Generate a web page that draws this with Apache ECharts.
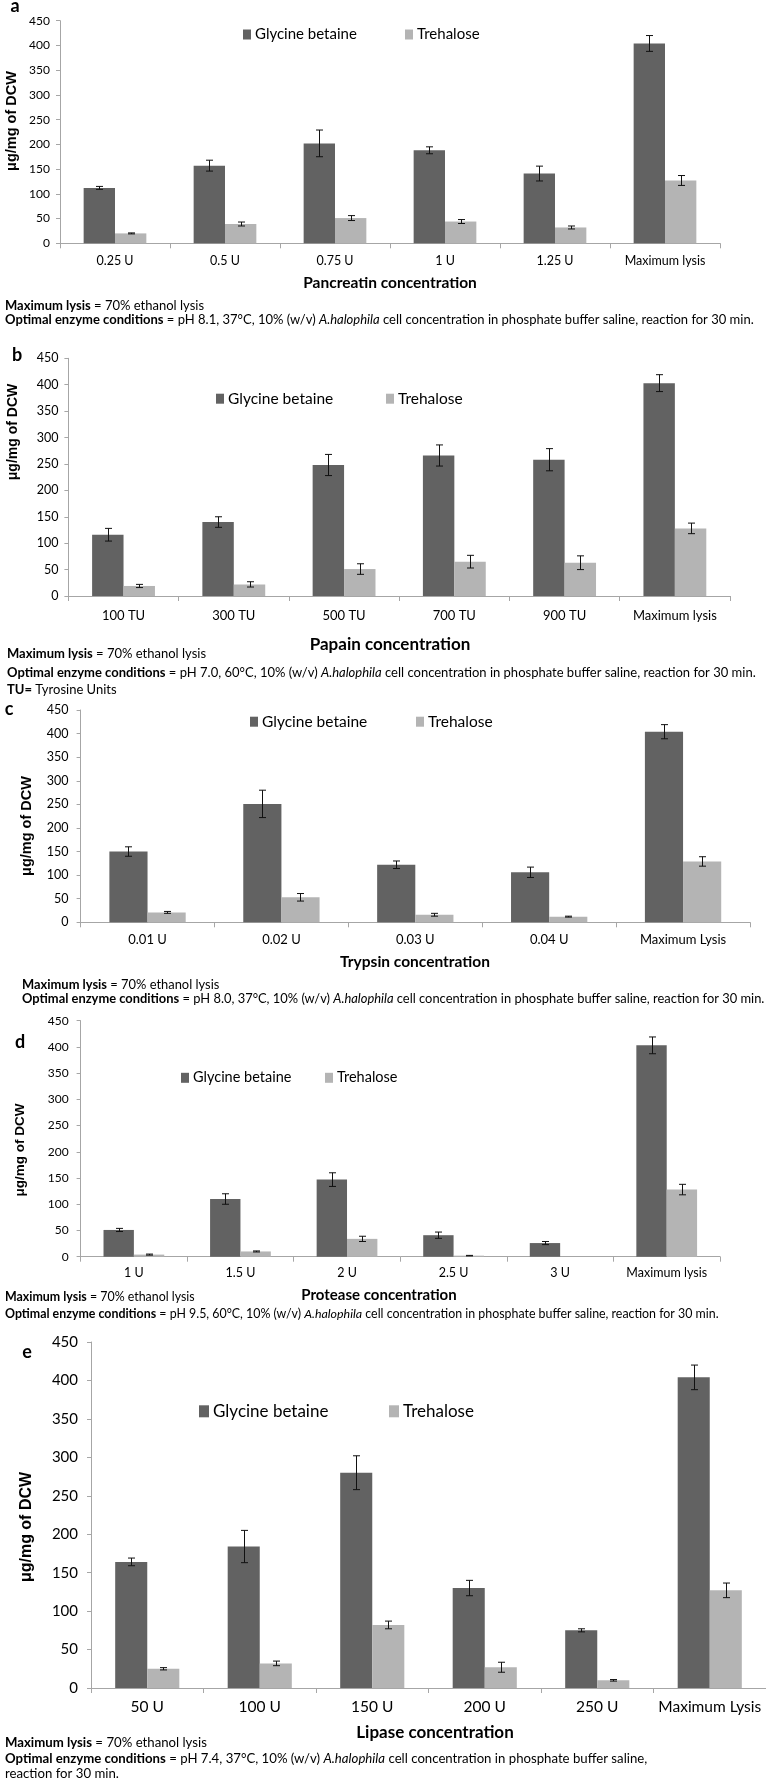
<!DOCTYPE html>
<html>
<head>
<meta charset="utf-8">
<script src="https://cdn.jsdelivr.net/npm/echarts@6/dist/echarts.min.js"></script>
<style>
html,body{margin:0;padding:0;background:#fff;}
#c{width:766px;height:1783px;}
</style>
</head>
<body>
<div id="c"></div>
<script>
// ---------- DATA ----------
var yTicks = [0, 50, 100, 150, 200, 250, 300, 350, 400, 450];
var seriesNames = ['Glycine betaine', 'Trehalose'];

var catsA = ['0.25 U', '0.5 U', '0.75 U', '1 U', '1.25 U', 'Maximum lysis'];
var gbA = [112, 157, 202, 188, 141, 404];
var gbAErr = [3, 11, 27, 7, 15, 16];
var trA = [20, 39, 51, 44, 32, 127];
var trAErr = [1, 4, 5, 4, 3, 10];

var catsB = ['100 TU', '300 TU', '500 TU', '700 TU', '900 TU', 'Maximum lysis'];
var gbB = [116, 140, 248, 266, 258, 403];
var gbBErr = [12, 10, 20, 20, 21, 16];
var trB = [19, 22, 51, 65, 63, 128];
var trBErr = [3, 5, 10, 12, 13, 10];

var catsC = ['0.01 U', '0.02 U', '0.03 U', '0.04 U', 'Maximum Lysis'];
var gbC = [150, 251, 122, 106, 404];
var gbCErr = [10, 29, 8, 11, 15];
var trC = [21, 53, 16, 12, 129];
var trCErr = [2, 8, 3, 1, 10];

var catsD = ['1 U', '1.5 U', '2 U', '2.5 U', '3 U', 'Maximum lysis'];
var gbD = [51, 110, 147, 41, 26, 403];
var gbDErr = [3, 10, 13, 6, 3, 16];
var trD = [4, 10, 34, 2, 0, 128];
var trDErr = [1, 1, 5, 0.5, 0, 10];

var catsE = ['50 U', '100 U', '150 U', '200 U', '250 U', 'Maximum Lysis'];
var gbE = [164, 184, 280, 130, 75, 404];
var gbEErr = [5, 21, 22, 10, 2, 16];
var trE = [25, 32, 82, 27, 10, 127];
var trEErr = [1.5, 3, 5, 6.5, 1, 9.5];

var panelLetters = ['a', 'b', 'c', 'd', 'e'];
var xTitles = ['Pancreatin concentration', 'Papain concentration', 'Trypsin concentration', 'Protease concentration', 'Lipase concentration'];
var yTitle = 'μg/mg of DCW';
var notesA = ['{b|Maximum lysis} = 70% ethanol lysis',
  '{b|Optimal enzyme conditions} = pH 8.1, 37°C, 10% (w/v) {i|A.halophila} cell concentration in phosphate buffer saline, reaction for 30 min.'];
var notesB = ['{b|Maximum lysis} = 70% ethanol lysis',
  '{b|Optimal enzyme conditions} = pH 7.0, 60°C, 10% (w/v) {i|A.halophila} cell concentration in phosphate buffer saline, reaction for 30 min.',
  '{b|TU=} Tyrosine Units'];
var notesC = ['{b|Maximum lysis} = 70% ethanol lysis',
  '{b|Optimal enzyme conditions} = pH 8.0, 37°C, 10% (w/v) {i|A.halophila} cell concentration in phosphate buffer saline, reaction for 30 min.'];
var notesD = ['{b|Maximum lysis} = 70% ethanol lysis',
  '{b|Optimal enzyme conditions} = pH 9.5, 60°C, 10% (w/v) {i|A.halophila} cell concentration in phosphate buffer saline, reaction for 30 min.'];
var notesE = ['{b|Maximum lysis} = 70% ethanol lysis',
  '{b|Optimal enzyme conditions} = pH 7.4, 37°C, 10% (w/v) {i|A.halophila} cell concentration in phosphate buffer saline,',
  'reaction for 30 min.'];

// ---------- LAYOUT / STYLE ----------
var FONT = 'Lato, "Open Sans", sans-serif';
var GB_COLOR = '#626262';
var TR_COLOR = '#b4b4b4';
var AXIS_COLOR = '#a6a6a6';
var BAR_PCT = 0.285;

var panels = [
  {cats: catsA, gb: gbA, gbErr: gbAErr, tr: trA, trErr: trAErr, notes: notesA,
   grid: {left: 60, top: 20.7, width: 660, height: 222.6},
   tick: 12, xl: 12.5, xlMargin: 11, ylMargin: 10,
   leg: {gb: 243, tr: 405, cy: 36, fs: 15, w: 8, h: 10},
   letter: [15, 6], ytitle: [12, 121, 14.5], xtitle: [390, 283, 15.5],
   notesPos: [5, [306, 320]], noteFs: 13},
  {cats: catsB, gb: gbB, gbErr: gbBErr, tr: trB, trErr: trBErr, notes: notesB,
   grid: {left: 68.4, top: 358.3, width: 661.6, height: 237.7},
   tick: 12.5, xl: 13, xlMargin: 13.5, ylMargin: 10,
   leg: {gb: 216, tr: 386, cy: 400, fs: 15.5, w: 8, h: 10},
   letter: [17, 355], ytitle: [13, 432, 14], xtitle: [390, 645, 17],
   notesPos: [7, [654, 673, 690]], noteFs: 13},
  {cats: catsC, gb: gbC, gbErr: gbCErr, tr: trC, trErr: trCErr, notes: notesC,
   grid: {left: 80.6, top: 710, width: 669.4, height: 212.3},
   tick: 12.5, xl: 13, xlMargin: 11, ylMargin: 12,
   leg: {gb: 250, tr: 416, cy: 723, fs: 15.5, w: 8, h: 10},
   letter: [9, 709], ytitle: [27, 826, 14.5], xtitle: [415, 962, 15.5],
   notesPos: [22, [985, 999]], noteFs: 12.9},
  {cats: catsD, gb: gbD, gbErr: gbDErr, tr: trD, trErr: trDErr, notes: notesD,
   grid: {left: 80.6, top: 1020.7, width: 639.4, height: 236},
   tick: 12, xl: 12.5, xlMargin: 10, ylMargin: 12,
   leg: {gb: 181, tr: 325, cy: 1079, fs: 14.5, w: 8, h: 10},
   letter: [20, 1042], ytitle: [20, 1150, 13.5], xtitle: [379, 1295, 15],
   notesPos: [5, [1297, 1314]], noteFs: 12.4},
  {cats: catsE, gb: gbE, gbErr: gbEErr, tr: trE, trErr: trEErr, notes: notesE,
   grid: {left: 91, top: 1342, width: 685, height: 346},
   tick: 15, xl: 15.5, xlMargin: 10.5, ylMargin: 13,
   leg: {gb: 199, tr: 389, cy: 1413, fs: 17, w: 10, h: 12},
   letter: [27, 1352], ytitle: [27, 1527, 16], xtitle: [435, 1733, 17],
   notesPos: [5, [1743, 1759, 1774]], noteFs: 13.2}
];

function errRender(side) {
  return function (params, api) {
    var idx = api.value(0), v = api.value(1), e = api.value(2);
    if (!e) return null;
    var c = api.coord([idx, v]);
    var band = api.size([1, 0])[0];
    var x = Math.round(c[0] + side * band * BAR_PCT / 2) + 0.5;
    var yT = api.coord([idx, v + e])[1];
    var yB = api.coord([idx, Math.max(0, v - e)])[1];
    var cap = 3.5;
    var st = {stroke: '#111', lineWidth: 1};
    return {type: 'group', children: [
      {type: 'line', shape: {x1: x, y1: yT, x2: x, y2: yB}, style: st},
      {type: 'line', shape: {x1: x - cap, y1: yT, x2: x + cap, y2: yT}, style: st},
      {type: 'line', shape: {x1: x - cap, y1: yB, x2: x + cap, y2: yB}, style: st}
    ]};
  };
}

var grids = [], xAxes = [], yAxes = [], series = [], legends = [], graphics = [];

panels.forEach(function (p, i) {
  grids.push({left: p.grid.left, top: p.grid.top, width: p.grid.width, height: p.grid.height, containLabel: false});
  xAxes.push({
    type: 'category', gridIndex: i, data: p.cats,
    axisLine: {show: true, lineStyle: {color: AXIS_COLOR, width: 1}},
    axisTick: {show: true, length: 5, interval: 0, lineStyle: {color: AXIS_COLOR}},
    axisLabel: {color: '#000', fontFamily: FONT, fontSize: p.xl, margin: p.xlMargin, interval: 0},
    splitLine: {show: false}
  });
  yAxes.push({
    type: 'value', gridIndex: i, min: yTicks[0], max: yTicks[yTicks.length - 1], interval: yTicks[1] - yTicks[0],
    axisLine: {show: true, lineStyle: {color: AXIS_COLOR, width: 1}},
    axisTick: {show: true, length: 4, lineStyle: {color: AXIS_COLOR}},
    axisLabel: {color: '#000', fontFamily: FONT, fontSize: p.tick, margin: p.ylMargin},
    splitLine: {show: false}
  });
  series.push({
    name: seriesNames[0], type: 'bar', xAxisIndex: i, yAxisIndex: i, data: p.gb,
    barWidth: (BAR_PCT * 100) + '%', barGap: '0%', itemStyle: {color: GB_COLOR}, z: 2
  });
  series.push({
    name: seriesNames[1], type: 'bar', xAxisIndex: i, yAxisIndex: i, data: p.tr,
    barWidth: (BAR_PCT * 100) + '%', barGap: '0%', itemStyle: {color: TR_COLOR}, z: 2
  });
  series.push({
    type: 'custom', xAxisIndex: i, yAxisIndex: i, renderItem: errRender(-1), z: 5,
    encode: {x: 0, y: 1}, silent: true,
    data: p.gb.map(function (v, k) { return [k, v, p.gbErr[k]]; })
  });
  series.push({
    type: 'custom', xAxisIndex: i, yAxisIndex: i, renderItem: errRender(1), z: 5,
    encode: {x: 0, y: 1}, silent: true,
    data: p.tr.map(function (v, k) { return [k, v, p.trErr[k]]; })
  });
  [['gb', 0], ['tr', 1]].forEach(function (pair) {
    legends.push({
      data: [seriesNames[pair[1]]], left: p.leg[pair[0]], top: p.leg.cy - Math.max(p.leg.h, p.leg.fs * 1.2) / 2,
      orient: 'horizontal', icon: 'rect', itemWidth: p.leg.w, itemHeight: p.leg.h, selectedMode: false,
      padding: 0, textStyle: {fontFamily: FONT, fontSize: p.leg.fs, color: '#000', padding: [0, 0, 0, -1]}
    });
  });
  graphics.push({type: 'text', x: p.letter[0], y: p.letter[1],
    style: {text: panelLetters[i], font: 'bold 18px ' + FONT, fill: '#000', textAlign: 'center', textVerticalAlign: 'middle'}});
  graphics.push({type: 'text', x: p.ytitle[0], y: p.ytitle[1], rotation: Math.PI / 2,
    style: {text: yTitle, font: 'bold ' + p.ytitle[2] + 'px "Liberation Sans", Arial, sans-serif', fill: '#000',
      textAlign: 'center', textVerticalAlign: 'middle'}});
  graphics.push({type: 'text', x: p.xtitle[0], y: p.xtitle[1],
    style: {text: xTitles[i], font: 'bold ' + p.xtitle[2] + 'px ' + FONT, fill: '#000', textAlign: 'center', textVerticalAlign: 'middle'}});
  p.notes.forEach(function (line, k) {
    graphics.push({type: 'text', x: p.notesPos[0], y: p.notesPos[1][k],
      style: {text: line, fontFamily: FONT, fontSize: p.noteFs, fill: '#000', textAlign: 'left', textVerticalAlign: 'middle',
        rich: {b: {fontWeight: 'bold', fontFamily: FONT, fontSize: p.noteFs},
               i: {fontStyle: 'italic', fontFamily: FONT, fontSize: p.noteFs}}}});
  });
});

var chart = echarts.init(document.getElementById('c'), null, {width: 766, height: 1783, renderer: 'canvas'});
chart.setOption({
  animation: false,
  backgroundColor: '#ffffff',
  grid: grids, xAxis: xAxes, yAxis: yAxes, series: series, legend: legends, graphic: graphics
});
</script>
</body>
</html>
